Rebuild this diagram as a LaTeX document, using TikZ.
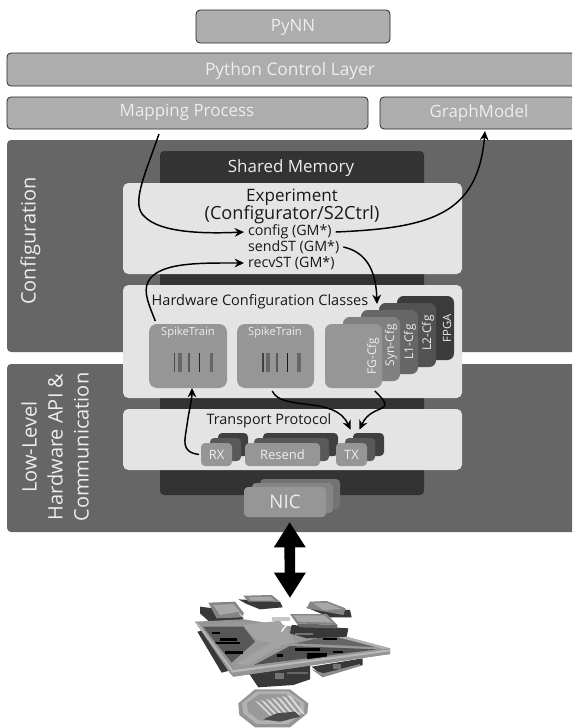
\documentclass[tikz,border=0pt]{standalone}
\usepackage{fontspec}
\setmainfont{Open Sans}
\usetikzlibrary{arrows.meta,calc}
\definecolor{panelgrey}{gray}{0.40}
\definecolor{sharedgrey}{gray}{0.20}
\definecolor{lightgrey}{gray}{0.895}
\definecolor{topgrey}{gray}{0.68}
\definecolor{textlight}{gray}{0.93}
\definecolor{textdark}{gray}{0.10}
\definecolor{stgrey}{gray}{0.59}
\newcommand{\fsz}[1]{\fontsize{#1}{#1}\selectfont}
% \pbox{name}{x1}{y1}{x2}{y2}{style}{text}
\newcommand{\pbox}[7]{\node[pb,#6,minimum width={(#4-#2)*0.75pt},minimum height={(#5-#3)*0.75pt}] (#1) at ({(#2+#4)/2},{(#3+#5)/2}) {#7};}
\tikzset{
  pb/.style={rectangle,rounded corners=3pt,inner sep=0pt,outer sep=0pt,text=textlight},
  topbox/.style={fill=topgrey,draw=black!85,line width=0.6pt},
  panel/.style={fill=panelgrey},
  shared/.style={fill=sharedgrey},
  layer/.style={fill=lightgrey,rounded corners=4pt},
  strain/.style={fill=stgrey,rounded corners=6pt},
  lbl/.style={inner sep=0pt,outer sep=0pt},
  etext/.style={lbl,text=textdark},
  wtext/.style={lbl,text=textlight},
  conn/.style={-{Stealth[length=7pt,width=6.5pt]},line width=1.1pt,black},
  pcb/.style={fill=black!78},
  sink/.style={fill=black!48},
  sinktop/.style={fill=black!34},
  frame/.style={fill=black!42},
}
\begin{document}
\begin{tikzpicture}[x=0.75pt,y=-0.75pt]
\useasboundingbox (0,0) rectangle (572,728);
\clip (0,0) rectangle (572,728);
\fill[white] (0,0) rectangle (572,728);
% top boxes
\pbox{pynn}{196}{10}{390}{43}{topbox}{}
\node[wtext] at (293,27.5) {\fsz{12.7}PyNN};
\pbox{python}{7}{53}{590}{86}{topbox}{}
\node[wtext] at (290,71) {\fsz{13}Python Control Layer};
\pbox{mapping}{7}{97}{368}{129}{topbox}{}
\node[wtext] at (187,112) {\fsz{12.7}Mapping Process};
\pbox{graph}{380}{97}{590}{129}{topbox}{}
\node[wtext] at (479,113) {\fsz{12.7}GraphModel};
% panels
\pbox{cfgpanel}{7}{140}{590}{352}{panel}{}
\pbox{llpanel}{7}{364}{590}{532}{panel}{}
\pbox{shm}{160}{151}{424}{495}{shared}{}
\node[wtext] at (291,168.5) {\fsz{12.7}Shared Memory};
\node[wtext,rotate=90] (cfglabel) at (30.5,241) {\fsz{15}Configuration};
\node[wtext,rotate=90,align=center,font=\fsz{15}] (lllabel) at (55,447) {Low-Level\\[4.5pt]Hardware API \&\\[4.5pt]Communication};
% experiment
\pbox{exp}{123}{183}{462}{274}{layer}{}
\node[etext,align=center] (exptitle) at (292,206) {\fsz{12.8}Experiment\\[-1pt]\fsz{13.6}(Configurator/S2Ctrl)};
\node[etext,anchor=west] (config) at (248,232) {\fsz{10.7}config (GM*)};
\node[etext,anchor=west] (sendst) at (248,247) {\fsz{10.7}sendST (GM*)};
\node[etext,anchor=west] (recvst) at (248,263) {\fsz{10.7}recvST (GM*)};
% hardware configuration
\pbox{hw}{123}{285}{462}{398}{layer}{}
\node[etext] (hwtitle) at (260,302) {\fsz{10.9}Hardware Configuration Classes};
\pbox{fpga}{397}{296}{454}{360}{fill=black!77,rounded corners=5pt}{}
\pbox{ltwo}{379}{303}{436}{367}{fill=black!68,rounded corners=5pt}{}
\pbox{lone}{361}{310}{418}{374}{fill=black!60,rounded corners=5pt}{}
\pbox{syn}{343}{317}{400}{381}{fill=black!50,rounded corners=5pt}{}
\pbox{fg}{325}{324}{382}{388}{fill=stgrey,rounded corners=5pt}{}
\node[wtext,rotate=90] at (447,328) {\fsz{8.5}FPGA};
\node[wtext,rotate=90] at (428,333) {\fsz{9}L2-Cfg};
\node[wtext,rotate=90] at (410,342) {\fsz{9}L1-Cfg};
\node[wtext,rotate=90] at (391,345) {\fsz{9}Syn-Cfg};
\node[wtext,rotate=90] at (373,356) {\fsz{9}FG-Cfg};
\pbox{stone}{149}{324}{227}{388}{strain}{}
\pbox{sttwo}{237}{324}{314}{388}{strain}{}
\node[wtext] at (188,333) {\fsz{8.4}SpikeTrain};
\node[wtext] at (275,333) {\fsz{8.4}SpikeTrain};
\foreach \a/\b/\k in {173.5/175/70,178/181.5/60,188/189.5/65,199/200/85,209.5/212.5/60,262/263.5/75,266/269.5/60,276/277.5/65,287/288/90,297/300.5/60}
  \fill[black!\k] (\a,353) rectangle (\b,372);
% transport
\pbox{tp}{123}{409}{462}{470}{layer}{}
\node[etext] (tptitle) at (269,421) {\fsz{10.8}Transport Protocol};
\pbox{rxc}{218}{433}{248}{456}{fill=black!75}{}
\pbox{rxb}{210}{438}{241}{461}{fill=black!65}{}
\pbox{rx}{201}{443}{232}{466}{fill=stgrey}{\fsz{9.7}RX}
\pbox{resc}{263}{433}{338}{456}{fill=black!75}{}
\pbox{resb}{254}{438}{329}{461}{fill=black!65}{}
\pbox{resend}{245}{443}{320}{466}{fill=stgrey}{\fsz{9.7}Resend}
\pbox{txc}{353}{433}{384}{456}{fill=black!75}{}
\pbox{txb}{345}{438}{375}{461}{fill=black!65}{}
\pbox{tx}{336}{443}{367}{466}{fill=stgrey}{\fsz{9.7}TX}
% NIC
\pbox{nicc}{260}{479}{340}{509}{fill=black!55}{}
\pbox{nicb}{252}{483}{333}{513}{fill=black!48}{}
\pbox{nic}{244}{487}{326}{517}{fill=stgrey}{\fsz{14}NIC}
% connectors
\draw[conn] ([xshift=-21.4pt,yshift=-3.75pt]mapping.south) .. controls (145,175) and (130,205) .. (145,217) .. controls (160,232) and (200,234) .. ([xshift=-3pt]config.west);
\draw[conn] ([xshift=3pt,yshift=0pt]config.east) .. controls (430,228) and (478,215) .. ([xshift=0pt,yshift=-1.5pt]graph.south);
\draw[conn] ([xshift=-24.5pt,yshift=2.25pt]stone.north) .. controls (149,305) and (143,292) .. (148,282) .. controls (158,262) and (200,263) .. ([xshift=-3pt]recvst.west);
\draw[conn] ([xshift=3pt]sendst.east) .. controls (366,252) and (376,270) .. ([xshift=-3.75pt,yshift=15pt]fg.north east);
\draw[conn] ([xshift=-1.5pt]rx.west) .. controls (180,452) and (185,440) .. (187,425) .. controls (189,410) and (192,400) .. ([xshift=3pt,yshift=0pt]stone.south);
\draw[conn] ([xshift=-2.5pt,yshift=-2.25pt]sttwo.south) .. controls (282,412) and (335,395) .. ([xshift=-0.75pt,yshift=10pt]tx.north);
\draw[conn] ([xshift=16pt,yshift=-2.25pt]fg.south) .. controls (400,415) and (372,402) .. ([xshift=6pt,yshift=10pt]tx.north);
\coordinate (board) at (290,598);
\draw[{Triangle[length=19pt,width=22.5pt]}-{Triangle[length=19pt,width=22.5pt]},line width=8pt,black] ([xshift=3.5pt,yshift=-3.75pt]nic.south) -- (board);
% hardware
\begin{scope}[shift={(180,530)},x=0.25pt,y=-0.25pt]
 % left-edge connectors under the board
 \fill[pcb] (52,305) -- (75,300) -- (155,420) -- (125,428) -- cycle;
 % under-board modules
 \fill[pcb] (208,432) -- (390,405) -- (390,448) -- (340,465) -- (235,472) -- cycle;
 \fill[black!55] (285,430) rectangle (312,448);
 \fill[black!60] (320,425) rectangle (385,432);
 \fill[pcb] (395,410) -- (548,385) -- (548,405) -- (430,440) -- cycle;
 \fill[black!45] (395,418) -- (430,430) -- (540,402) -- (540,408) -- (428,442) -- cycle;
 \fill[black!55] (458,402) rectangle (482,418);
 % upper modules behind
 \fill[pcb] (60,230) -- (100,235) -- (190,262) -- (205,295) -- (110,295) -- (60,250) -- cycle;
 \fill[sink] (85,218) -- (165,215) -- (192,250) -- (185,262) -- (110,265) -- cycle;
 \fill[sinktop] (100,225) -- (160,222) -- (180,245) -- (120,255) -- cycle;
 \draw[black!15,line width=0.7pt] (178,250) -- (190,262) -- (190,285);
 \fill[pcb] (175,208) -- (300,215) -- (308,232) -- (240,238) -- (200,222) -- cycle;
 \fill[sink] (190,197) -- (275,195) -- (300,215) -- (205,215) -- cycle;
 \fill[sinktop] (205,202) -- (270,200) -- (285,212) -- (215,212) -- cycle;
 \fill[pcb] (378,232) -- (510,240) -- (515,262) -- (450,262) -- cycle;
 \fill[sink] (390,215) -- (440,213) -- (497,235) -- (490,255) -- (380,235) -- cycle;
 \fill[sinktop] (400,220) -- (440,218) -- (485,237) -- (430,240) -- cycle;
 \fill[black!22] (275,262) rectangle (330,272);
 % board surface
 \fill[frame] (45,275) -- (190,268) -- (440,305) -- (630,355) -- (630,372) -- (160,440) -- (150,430) -- cycle;
 \fill[black!40] (60,283) -- (190,275) -- (470,315) -- (600,355) -- (165,418) -- cycle;
 \fill[black!66] (68,290) -- (190,290) -- (225,335) -- (155,398) -- cycle;
 \fill[black!68] (222,405) -- (330,348) -- (590,358) -- cycle;
 \fill[black!60] (345,340) -- (470,312) -- (595,352) -- (460,345) -- cycle;
 \fill[black!36] (190,285) -- (300,272) -- (345,335) -- (310,345) -- (230,330) -- cycle;
 \foreach \a/\b/\c/\d in {95/305/120/311,120/325/170/333,105/335/180/341,135/363/190/371,290/373/310/380,345/355/420/362,380/368/440/395,460/362/490/369,430/325/470/331}
   \fill[black] (\a,\b) rectangle (\c,\d);
 % frame strips
 \fill[black!42] (150,418) -- (630,355) -- (630,372) -- (160,440) -- cycle;
 \fill[black!28] (152,421) -- (630,358) -- (630,364) -- (155,428) -- cycle;
 \fill[black!42] (45,275) -- (150,418) -- (168,418) -- (62,282) -- cycle;
 \fill[black!28] (47,277) -- (152,420) -- (159,420) -- (54,279) -- cycle;
 \fill[black!36] (168,402) -- (295,325) -- (318,338) -- (205,405) -- cycle;
 \fill[black!30] (470,312) -- (630,355) -- (610,357) -- (460,318) -- cycle;
 % front module
 \fill[pcb] (335,285) -- (505,295) -- (500,320) -- (380,325) -- (330,310) -- cycle;
 \fill[black!55] (345,310) rectangle (400,316);
 \fill[sink] (330,252) -- (440,252) -- (472,285) -- (350,280) -- cycle;
 \fill[sinktop] (340,256) -- (432,256) -- (458,278) -- (355,275) -- cycle;
 \fill[black!60] (350,280) -- (472,285) -- (472,295) -- (360,292) -- cycle;
 \draw[white,line width=0.9pt] (305,305) .. controls (315,285) and (325,282) .. (345,280);
 % wafer
 \fill[black!42] (175,520) -- (225,478) -- (330,478) -- (385,520) -- (382,550) -- (330,592) -- (225,592) -- (178,555) -- cycle;
 \fill[black!30] (186,520) -- (230,484) -- (325,484) -- (374,520) -- (372,546) -- (325,582) -- (230,582) -- (190,550) -- cycle;
 \fill[black!40] (200,520) -- (238,492) -- (320,492) -- (360,520) -- (358,542) -- (320,572) -- (238,572) -- (204,545) -- cycle;
 \foreach \i in {0,...,6}
   \fill[black!15] ({225+\i*16},{512-\i*3}) -- ({238+\i*16},{518-\i*3}) -- ({280+\i*16},{560-\i*1}) -- ({268+\i*16},{555-\i*1}) -- cycle;
 \fill[black!70] (250,568) -- (290,550) -- (345,545) -- (360,560) -- (300,575) -- cycle;
\end{scope}
\end{tikzpicture}
\end{document}
